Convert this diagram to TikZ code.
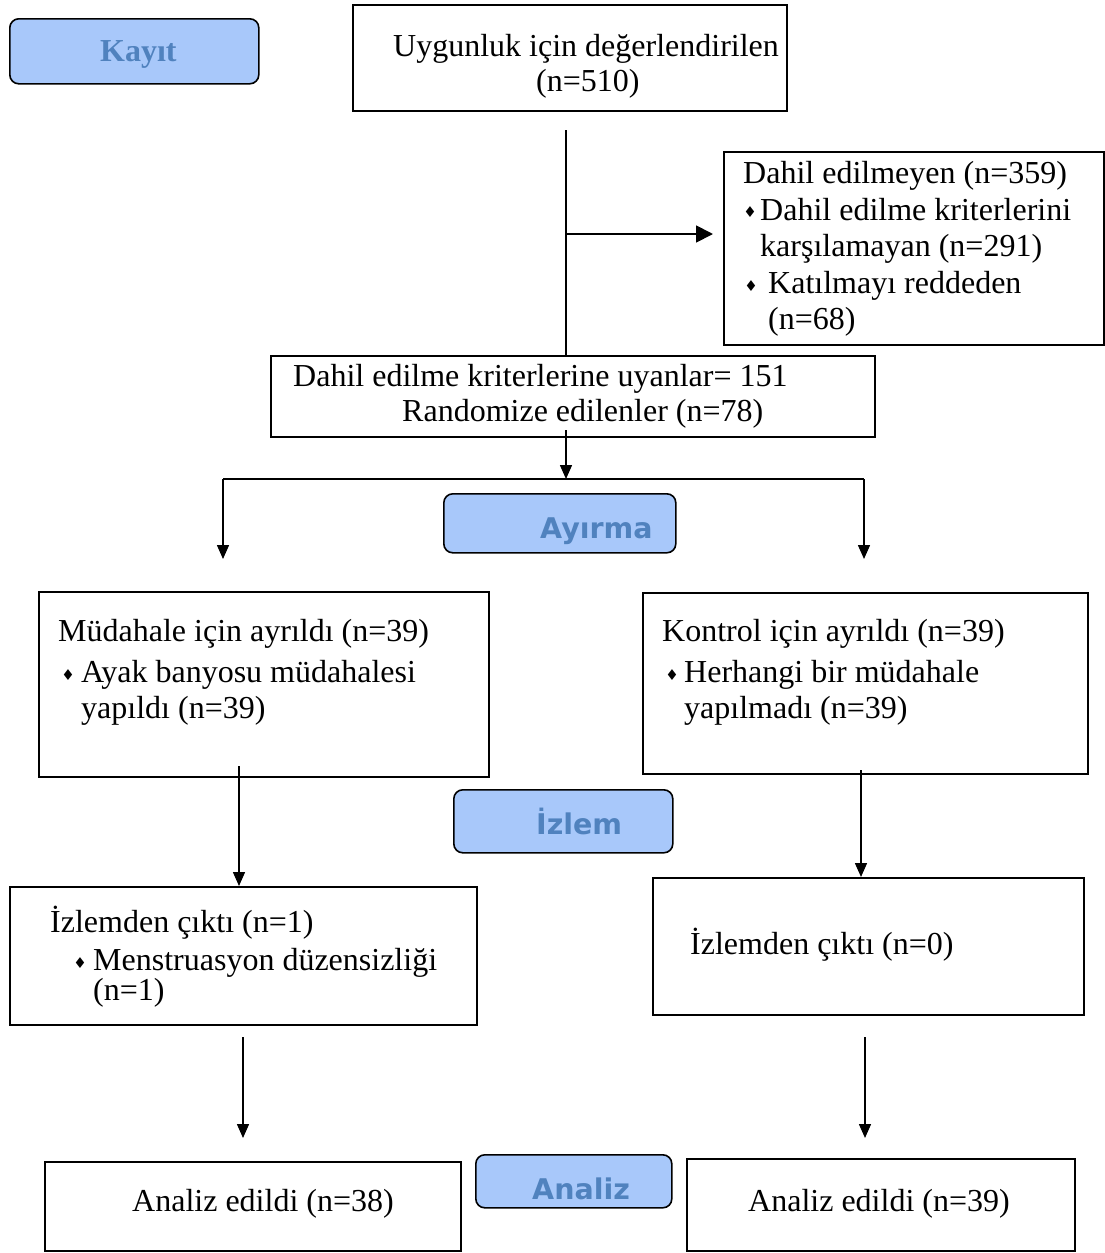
\documentclass[tikz,border=0pt]{standalone}
\usepackage{fontspec}
\setmainfont{Liberation Serif}
\newfontfamily\symfont{DejaVu Sans}
\newfontfamily\phasesans{DejaVu Sans}
\usetikzlibrary{arrows.meta}
\definecolor{phasefill}{RGB}{168,200,250}
\definecolor{phasetext}{RGB}{80,130,190}
\newcommand\mkbox[5]{\node[flowbox,minimum width=#4pt,minimum height=#5pt] (#1) at (#2,#3) {};}
\newcommand\mkphase[5]{\node[phasebox,minimum width=#4pt,minimum height=#5pt] (#1) at (#2,#3) {};}
\begin{document}
\begin{tikzpicture}[x=1pt,y=-1pt,
  flowbox/.style={draw, line width=1.8pt, inner sep=0pt, anchor=north west},
  phasebox/.style={draw, line width=1.6pt, inner sep=0pt, anchor=north west, fill=phasefill, rounded corners=9pt},
  txt/.style={anchor=base west, inner sep=0pt, font=\fontsize{32}{37}\selectfont},
  phasetxt/.style={anchor=base west, inner sep=0pt, text=phasetext, font=\phasesans\bfseries\fontsize{28.5}{32}\selectfont},
  bul/.style={anchor=center, inner sep=0pt, font=\symfont\fontsize{15}{15}\selectfont},
  conn/.style={line width=1.5pt},
  arr/.style={line width=1.5pt, -{Triangle[length=14pt,width=12pt]}},
  bigarr/.style={line width=1.8pt, -{Triangle[length=17pt,width=17pt]}}]
\useasboundingbox (0,0) rectangle (1105,1253);

% boxes
\mkbox{elig}{352}{4}{434}{106}
\mkbox{excl}{723}{151}{380}{193}
\mkbox{rand}{270}{355}{604}{81}
\mkbox{intv}{38}{591}{450}{185}
\mkbox{ctrl}{642}{592}{445}{181}
\mkbox{lossA}{9}{886}{467}{138}
\mkbox{lossB}{652}{877}{431}{137}
\mkbox{anaA}{44}{1161}{416}{89}
\mkbox{anaB}{686}{1158}{388}{92}

% phase labels
\mkphase{kayit}{9}{18}{249}{65}
\mkphase{ayirma}{443}{493}{232}{59}
\mkphase{izlem}{453}{789}{219}{63}
\mkphase{analiz}{475}{1154}{196}{53}
\node[anchor=base west, inner sep=0pt, text=phasetext, font=\bfseries\fontsize{32}{37}\selectfont] (tkayit) at (100,61) {Kayıt};
\node[phasetxt] (tayirma) at (540,538) {Ayırma};
\node[phasetxt] (tizlem) at (536,834) {İzlem};
\node[phasetxt] (tanaliz) at (532,1199) {Analiz};

% texts
\node[txt] (t1) at (393,56) {Uygunluk için değerlendirilen};
\node[txt] (t2) at (536,91) {(n=510)};

\node[txt] (e1) at (743,183) {Dahil edilmeyen (n=359)};
\node[bul] (eb1) at (750,212) {♦};
\node[txt] (e2) at (760,220) {Dahil edilme kriterlerini};
\node[txt] (e3) at (760,256) {karşılamayan (n=291)};
\node[bul] (eb2) at (751,286) {♦};
\node[txt] (e4) at (768,293) {Katılmayı reddeden};
\node[txt] (e5) at (768,329) {(n=68)};

\node[txt] (r1) at (293,386) {Dahil edilme kriterlerine uyanlar= 151};
\node[txt] (r2) at (402,421) {Randomize edilenler (n=78)};

\node[txt] (i1) at (58,641) {Müdahale için ayrıldı (n=39)};
\node[bul] (ib1) at (68,675) {♦};
\node[txt] (i2) at (81,682) {Ayak banyosu müdahalesi};
\node[txt] (i3) at (81,718) {yapıldı (n=39)};

\node[txt] (k1) at (662,641) {Kontrol için ayrıldı (n=39)};
\node[bul] (kb1) at (672,675) {♦};
\node[txt] (k2) at (684,682) {Herhangi bir müdahale};
\node[txt] (k3) at (684,718) {yapılmadı (n=39)};

\node[txt] (l1) at (50,932) {İzlemden çıktı (n=1)};
\node[bul] (lb1) at (80,963) {♦};
\node[txt] (l2) at (93,970) {Menstruasyon düzensizliği};
\node[txt] (l3) at (93,1000) {(n=1)};

\node[txt] (m1) at (690,954) {İzlemden çıktı (n=0)};

\node[txt] (a1) at (132,1211) {Analiz edildi (n=38)};
\node[txt] (a2) at (748,1211) {Analiz edildi (n=39)};

% connectors
\coordinate (c1) at (566,130);
\draw[conn] (c1) -- (c1 |- rand.north);
\coordinate (hx) at (566,234);
\coordinate (hxe) at (713,234);
\draw[bigarr] (hx) -- (hxe);

\coordinate (rs) at (566,430);
\coordinate (split) at (566,479);
\draw[arr] (rs) -- (split);
\coordinate (bl) at (223,479);
\coordinate (br) at (864,479);
\coordinate (blend) at (223,559);
\coordinate (brend) at (864,559);
\draw[conn] (bl) -- (br);
\draw[arr] (bl) -- (blend);
\draw[arr] (br) -- (brend);

\coordinate (ia) at (239,766);
\draw[arr] (ia) -- (ia |- lossA.north);
\coordinate (ka) at (861,770);
\draw[arr] (ka) -- (ka |- lossB.north);

\coordinate (la) at (243,1037);
\coordinate (lae) at (243,1138);
\draw[arr] (la) -- (lae);
\coordinate (lb) at (865,1037);
\coordinate (lbe) at (865,1138);
\draw[arr] (lb) -- (lbe);
\end{tikzpicture}
\end{document}
